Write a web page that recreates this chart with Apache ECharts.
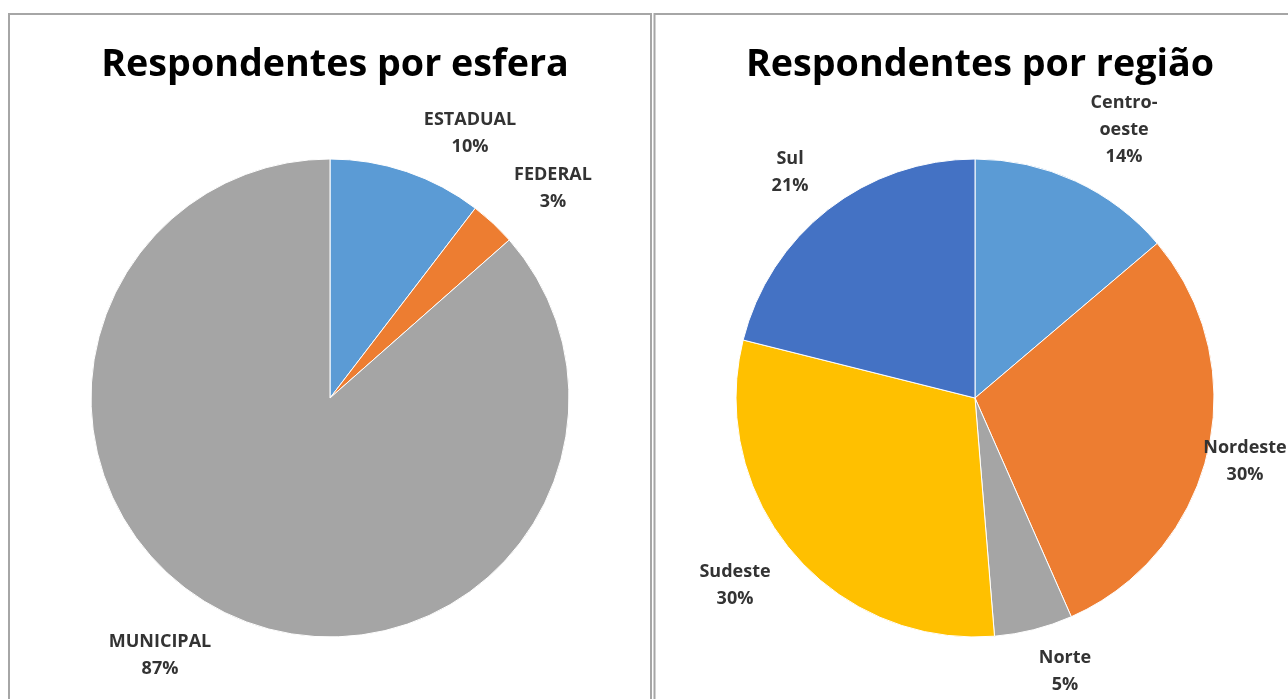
<!DOCTYPE html>
<html><head><meta charset="utf-8">
<script src="https://cdn.jsdelivr.net/npm/echarts@6/dist/echarts.min.js"></script>
<style>html,body{margin:0;padding:0;background:#fff}#c{width:1288px;height:699px}</style>
</head><body><div id="c"></div>
<script>
const titles = ['Respondentes por esfera', 'Respondentes por região'];
const esferaCats = ['ESTADUAL', 'FEDERAL', 'MUNICIPAL'];
const esferaVals = [10.4, 3.1, 86.5];
const esferaColors = ['#5B9BD5', '#ED7D31', '#A5A5A5'];
const regiaoCats = ['Centro-\noeste', 'Nordeste', 'Norte', 'Sudeste', 'Sul'];
const regiaoVals = [13.8, 29.6, 5.3, 30.2, 21.1];
const regiaoColors = ['#5B9BD5', '#ED7D31', '#A5A5A5', '#FFC000', '#4472C4'];

// label anchor positions (layout only)
const esferaLabelPos = [[470, 133], [553, 188], [160, 655]];
const regiaoLabelPos = [[1124, 130], [1245, 461], [1065, 671], [735, 585], [790, 172]];

const FONT = '"Open Sans", "Noto Sans", sans-serif';
const chart = echarts.init(document.getElementById('c'));
function mk(cats, vals, colors) {
  return cats.map((n, i) => ({ name: n, value: vals[i], itemStyle: { color: colors[i] } }));
}
const labelStyle = {
  show: true, position: 'outside', color: '#333', fontFamily: FONT,
  fontWeight: 'bold', fontSize: 18, lineHeight: 27, align: 'center',
  overflow: 'none', edgeDistance: 0, bleedMargin: 0,
  formatter: p => p.name + '\n' + Math.round(p.percent) + '%'
};
chart.setOption({
  backgroundColor: '#fff',
  animation: false,
  title: [
    { text: titles[0], left: 330, top: 41, textAlign: 'center',
      textStyle: { fontFamily: FONT, fontWeight: 'bold', fontSize: 37.7, color: '#000' } },
    { text: titles[1], left: 975, top: 41, textAlign: 'center',
      textStyle: { fontFamily: FONT, fontWeight: 'bold', fontSize: 37.7, color: '#000' } }
  ],
  graphic: [
    { type: 'rect', shape: { x: 9, y: 14, width: 642, height: 720 }, style: { fill: 'none', stroke: '#a6a6a6', lineWidth: 2 }, silent: true },
    { type: 'rect', shape: { x: 654.5, y: 14, width: 700, height: 720 }, style: { fill: 'none', stroke: '#a6a6a6', lineWidth: 2 }, silent: true }
  ],
  series: [
    {
      type: 'pie', center: [330, 398], radius: 239, startAngle: 90, clockwise: true,
      data: mk(esferaCats, esferaVals, esferaColors),
      itemStyle: { borderColor: '#fff', borderWidth: 1 },
      label: labelStyle, labelLine: { show: false },
      labelLayout: p => ({ x: esferaLabelPos[p.dataIndex][0], y: esferaLabelPos[p.dataIndex][1], align: 'center', verticalAlign: 'middle' }),
      emphasis: { disabled: true }
    },
    {
      type: 'pie', center: [975, 398], radius: 239, startAngle: 90, clockwise: true,
      data: mk(regiaoCats, regiaoVals, regiaoColors),
      itemStyle: { borderColor: '#fff', borderWidth: 1 },
      label: labelStyle, labelLine: { show: false },
      labelLayout: p => ({ x: regiaoLabelPos[p.dataIndex][0], y: regiaoLabelPos[p.dataIndex][1], align: 'center', verticalAlign: 'middle' }),
      emphasis: { disabled: true }
    }
  ]
});
</script></body></html>
